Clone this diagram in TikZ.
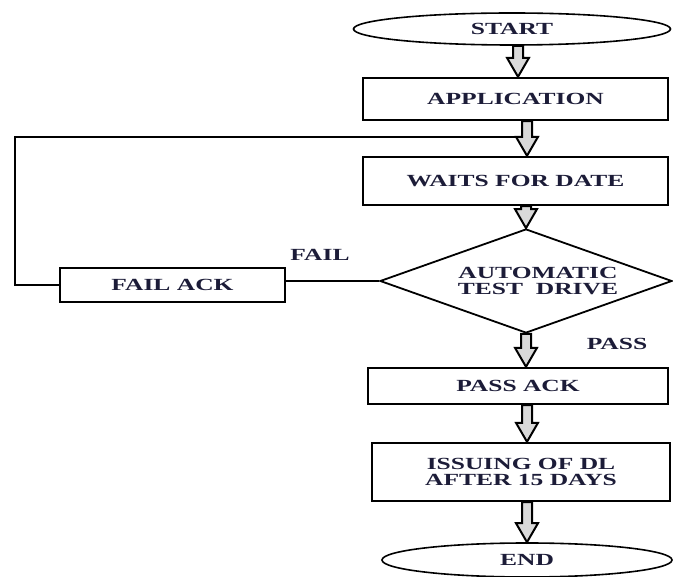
\documentclass[tikz,border=0pt]{standalone}
\usepackage{fontspec}
\usepackage{graphicx}
\setmainfont{Liberation Serif}
\usetikzlibrary{shapes.geometric,calc}
\definecolor{txt}{RGB}{28,28,56}
\newcommand\T[1]{\scalebox{1.5}[1]{#1}}
\tikzset{
  base/.style={font=\fontsize{17}{16.5}\selectfont\bfseries, text=txt, inner sep=0pt, align=center},
  box/.style={base, draw, rectangle, line width=2.4pt},
  oval/.style={base, draw, ellipse, line width=1.6pt},
  dec/.style={base, draw, diamond, aspect=2.8, line width=1.8pt},
  lbl/.style={base},
  wire/.style={line width=1.8pt},
  harrow/.style={line width=2pt, draw=black, fill=gray!30, line join=miter,
    to path={let \p1=(\tikztostart), \p2=(\tikztotarget) in
      (\x1-5pt,\y1) -- (\x1-5pt,\y2+19pt) -- (\x1-11pt,\y2+19pt) -- (\x2,\y2)
      -- (\x1+11pt,\y2+19pt) -- (\x1+5pt,\y2+19pt) -- (\x1+5pt,\y1) -- cycle}}
}
\begin{document}
\begin{tikzpicture}[x=1pt,y=-1pt]
\useasboundingbox[fill=white] (0,0) rectangle (673,577);

\node[oval, minimum width=317, minimum height=32] (start) at (512,29) {\T{START}};
\node[box, minimum width=305, minimum height=42] (app) at (515.5,99) {\T{APPLICATION}};
\node[box, minimum width=305, minimum height=48] (waits) at (515.5,181) {\T{WAITS FOR DATE}};
\node[dec, minimum width=292, minimum height=104] (test) at (526,281)
  {\hspace*{24pt}\T{AUTOMATIC}\\ \hspace*{24pt}\T{TEST\ \ DRIVE}};
\node[box, minimum width=225, minimum height=34] (fail) at (172.5,285) {\T{FAIL ACK}};
\node[box, minimum width=300, minimum height=36] (pass) at (518,386) {\T{PASS ACK}};
\node[box, minimum width=298, minimum height=58] (issue) at (521,472)
  {\T{ISSUING OF DL}\\ \T{AFTER 15 DAYS}};
\node[oval, minimum width=290, minimum height=34] (endn) at (527,560) {\T{END}};

\node[lbl] (faillbl) at (320,255) {\T{FAIL}};
\node[lbl] (passlbl) at (617,344) {\T{PASS}};

\coordinate (c1) at (518,0);
\coordinate (c2) at (527,0);
\coordinate (lc) at (15,137);
\coordinate (lj) at (522,137);

% loop back
\draw[wire] (fail.west) -| (lc) -- (lj);
\draw[wire] (test.west) -- (test.west -| fail.east);

% hollow arrows
\path[harrow] (start.south -| c1) to (app.north -| c1);
\path[harrow] (app.south -| c2) to (waits.north -| c2);
\path[harrow] (waits.south -| test.north) to (test.north);
\path[harrow] (test.south) to (pass.north -| test.south);
\path[harrow] (pass.south -| c2) to (issue.north -| c2);
\path[harrow] (issue.south -| endn.north) to (endn.north);
\end{tikzpicture}
\end{document}
